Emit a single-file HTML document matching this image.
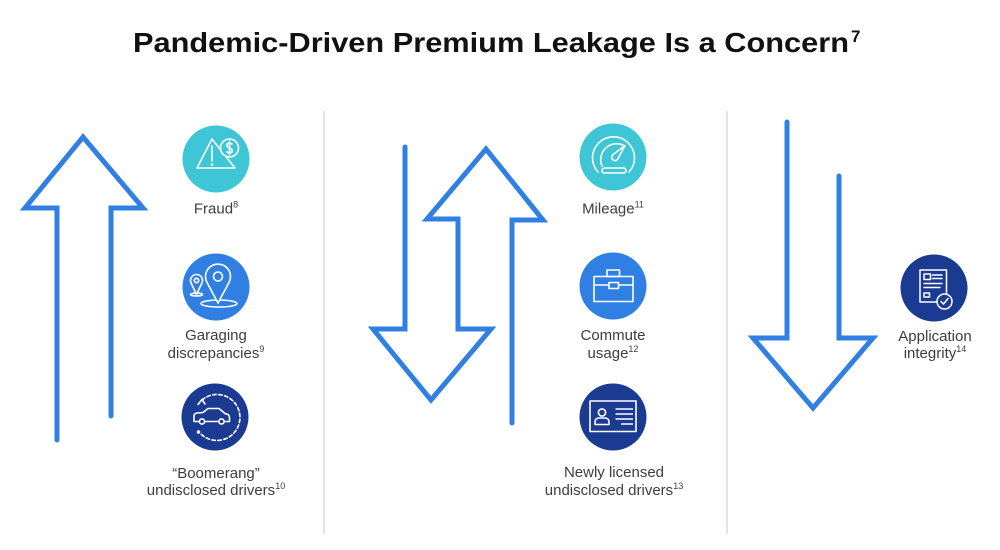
<!DOCTYPE html>
<html><head><meta charset="utf-8"><style>
html,body{margin:0;padding:0;background:#fff;}
svg{display:block;}
text{font-family:"Liberation Sans",Arial,sans-serif;}
</style></head><body>
<svg width="1000" height="550" viewBox="0 0 1000 550" xmlns="http://www.w3.org/2000/svg">
<rect width="1000" height="550" fill="#fff"/>
<!-- Title -->
<text x="133" y="52" font-size="28" font-weight="bold" fill="#111" textLength="716" lengthAdjust="spacingAndGlyphs">Pandemic-Driven Premium Leakage Is a Concern</text>
<text x="851" y="42" font-size="17" font-weight="bold" fill="#111">7</text>

<!-- dividers -->
<line x1="324" y1="111" x2="324" y2="534" stroke="#d3d3d3" stroke-width="1.2"/>
<line x1="727" y1="111" x2="727" y2="534" stroke="#d3d3d3" stroke-width="1.2"/>

<!-- arrows -->
<g fill="none" stroke="#2f80e2" stroke-width="5" stroke-linejoin="miter" stroke-linecap="round">
<path d="M57,440 L57,208 L25,208 L83,137 L143,208 L111,208 L111,416"/>
<path d="M405,147 L405,329 L373,329 L431,400 L491,329 L458,329 L458,219 L427,219 L486,149 L543,220 L512,220 L512,423"/>
<path d="M787,122 L787,338 L753,338 L813,408 L873,338 L839,338 L839,176"/>
</g>

<!-- Fraud icon -->
<g transform="translate(216,159)">
<circle r="33.5" fill="#3fc6d6"/>
<g fill="none" stroke="#fff" stroke-width="1.6" stroke-linejoin="round" stroke-linecap="round">
<path d="M-4,-20 L-19,9 L19,9 Z"/>
<circle cx="13.5" cy="-11" r="9" fill="#3fc6d6"/>
<path d="M-4,-13 L-4,2"/>
<path d="M16,-15 Q13,-16.5 11,-15 Q10,-12.5 13.5,-11 Q17,-9.5 16,-7 Q14,-5.5 11,-7 M13.5,-18 L13.5,-4"/>
</g>
<circle cx="-4" cy="5.5" r="1.3" fill="#fff"/>
</g>
<text x="216" y="213.5" font-size="15" fill="#3d3d3d" text-anchor="middle">Fraud<tspan dy="-6" font-size="9">8</tspan></text>

<!-- Garaging icon -->
<g transform="translate(216,287)">
<circle r="33.5" fill="#2f80e2"/>
<g fill="none" stroke="#fff" stroke-width="1.6" stroke-linejoin="round">
<ellipse cx="3" cy="16.5" rx="18" ry="3.5"/>
<path d="M2,16 L-8.9,-4.3 A12.5,12.5 0 1 1 12.9,-4.3 Z" fill="#2f80e2"/>
<circle cx="2" cy="-10.5" r="4.5"/>
<ellipse cx="-19.5" cy="7.5" rx="6" ry="1.5"/>
<path d="M-19.5,7.5 L-24.7,-3.5 A6,6 0 1 1 -14.3,-3.5 Z" fill="#2f80e2"/>
<circle cx="-19.5" cy="-6.5" r="2.2"/>
</g>
</g>
<text x="216" y="340" font-size="15" fill="#3d3d3d" text-anchor="middle">Garaging</text>
<text x="216" y="358" font-size="15" fill="#3d3d3d" text-anchor="middle">discrepancies<tspan dy="-6" font-size="9">9</tspan></text>

<!-- Boomerang icon -->
<g transform="translate(215,417)">
<circle r="33.5" fill="#1b3b92"/>
<g fill="none" stroke="#fff" stroke-width="1.6" stroke-linejoin="round" stroke-linecap="round">
<path d="M-13,-17 A23,23 0 1 1 -15,16" stroke-dasharray="3.5 2.5"/>
<path d="M-17,-12.5 L-13,-17.5 L-10,-13"/>
<path d="M-21,4.5 L-21,-1 Q-21,-3.5 -18,-4 L-12,-4.5 L-7,-8.5 L4,-8.5 L10,-3.5 L13,-2.5 Q14.5,-1.5 14.5,1 L14.5,4.5 Z"/>
<circle cx="-13" cy="4.5" r="2.6" fill="#1b3b92"/>
<circle cx="6.5" cy="4.5" r="2.6" fill="#1b3b92"/>
</g>
<circle cx="-16.5" cy="15" r="1.8" fill="#fff"/>
</g>
<text x="216" y="478" font-size="15" fill="#3d3d3d" text-anchor="middle">“Boomerang”</text>
<text x="216" y="495" font-size="15" fill="#3d3d3d" text-anchor="middle">undisclosed drivers<tspan dy="-6" font-size="9">10</tspan></text>

<!-- Mileage icon -->
<g transform="translate(613,157)">
<circle r="33.5" fill="#3fc6d6"/>
<g fill="none" stroke="#fff" stroke-width="1.6" stroke-linecap="round" stroke-linejoin="round">
<path d="M-15,15 A21,21 0 1 1 16,15"/>
<path d="M-11,9 A16,16 0 0 1 10,-12"/>
<rect x="-11" y="11" width="24" height="5" rx="2.5"/>
<path d="M-0.5,-2 L12,-11.5 L4.5,2.5 A3.2,3.2 0 1 1 -0.5,-2 Z"/>
</g>
</g>
<text x="613" y="213.5" font-size="15" fill="#3d3d3d" text-anchor="middle">Mileage<tspan dy="-6" font-size="9">11</tspan></text>

<!-- Commute icon -->
<g transform="translate(613,286)">
<circle r="33.5" fill="#2f80e2"/>
<g fill="none" stroke="#fff" stroke-width="1.6" stroke-linejoin="round">
<rect x="-19" y="-9.5" width="39" height="25"/>
<rect x="-6" y="-16" width="12.5" height="6.5"/>
<path d="M-19,-1 L-4,-1 M5.5,-1 L20,-1"/>
<rect x="-4" y="-3.5" width="9.5" height="6"/>
</g>
</g>
<text x="613" y="340" font-size="15" fill="#3d3d3d" text-anchor="middle">Commute</text>
<text x="613" y="358" font-size="15" fill="#3d3d3d" text-anchor="middle">usage<tspan dy="-6" font-size="9">12</tspan></text>

<!-- License icon -->
<g transform="translate(613,417)">
<circle r="33.5" fill="#1b3b92"/>
<g fill="none" stroke="#fff" stroke-width="1.6" stroke-linejoin="round">
<rect x="-23" y="-16" width="46" height="30.5"/>
<circle cx="-11" cy="-4.5" r="3.6"/>
<path d="M-18,7.5 L-18,5 Q-18,1.5 -14.5,1 L-7.5,1 Q-4,1.5 -4,5 L-4,7.5 Z"/>
<path d="M2.5,-8 L20,-8 M2.5,-3 L20,-3 M2.5,2 L20,2 M8,7 L20,7"/>
</g>
</g>
<text x="614" y="477" font-size="15" fill="#3d3d3d" text-anchor="middle">Newly licensed</text>
<text x="614" y="495" font-size="15" fill="#3d3d3d" text-anchor="middle">undisclosed drivers<tspan dy="-6" font-size="9">13</tspan></text>

<!-- Application icon -->
<g transform="translate(934,288)">
<circle r="33.5" fill="#1b3b92"/>
<g fill="none" stroke="#fff" stroke-width="1.5" stroke-linejoin="round" stroke-linecap="round">
<rect x="-14" y="-18" width="26.5" height="32"/>
<rect x="-10" y="-14" width="6.5" height="5.5"/>
<path d="M-1.5,-13 L8,-13 M-1.5,-9.5 L8,-9.5 M-10,-4.5 L8,-4.5 M-10,-0.5 L6,-0.5"/>
<rect x="-10" y="5" width="5.5" height="4"/>
<circle cx="10.5" cy="13.5" r="7.5" fill="#1b3b92"/>
<path d="M7,13.5 L9.5,16 L14,10.5"/>
</g>
</g>
<text x="935" y="341" font-size="15" fill="#3d3d3d" text-anchor="middle">Application</text>
<text x="935" y="358" font-size="15" fill="#3d3d3d" text-anchor="middle">integrity<tspan dy="-6" font-size="9">14</tspan></text>
</svg>
</body></html>
